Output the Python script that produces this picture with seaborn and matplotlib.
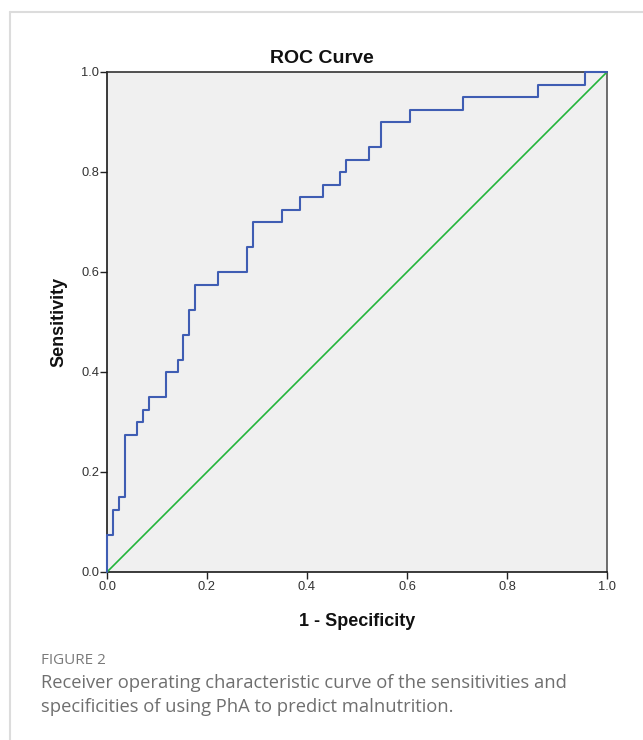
import matplotlib
matplotlib.use("Agg")
import matplotlib.pyplot as plt
import seaborn as sns
import pandas as pd
from matplotlib.lines import Line2D

# ---- data ----
fpr = [0.0, 0.0, 0.012, 0.024, 0.035, 0.059, 0.071, 0.083, 0.117, 0.141, 0.152,
       0.163, 0.175, 0.221, 0.280, 0.291, 0.349, 0.385, 0.431, 0.466, 0.477,
       0.524, 0.547, 0.605, 0.711, 0.861, 0.955, 1.0]
tpr = [0.0, 0.075, 0.125, 0.150, 0.275, 0.300, 0.325, 0.350, 0.400, 0.425, 0.475,
       0.525, 0.575, 0.600, 0.650, 0.700, 0.725, 0.750, 0.775, 0.800, 0.825,
       0.850, 0.900, 0.925, 0.950, 0.975, 1.0, 1.0]
ref_x = [0.0, 1.0]
ref_y = [0.0, 1.0]
ticks = [0.0, 0.2, 0.4, 0.6, 0.8, 1.0]
tick_labels = ["0.0", "0.2", "0.4", "0.6", "0.8", "1.0"]
title = "ROC Curve"
xlabel = "1 - Specificity"
ylabel = "Sensitivity"
fig_label = "FIGURE 2"
caption = ["Receiver operating characteristic curve of the sensitivities and",
           "specificities of using PhA to predict malnutrition."]

sns.set_theme(style="white")
plt.rcParams['font.family'] = ['Liberation Sans', 'DejaVu Sans']

W, H = 643, 740
fig = plt.figure(figsize=(W / 100, H / 100), dpi=100)
fig.patch.set_facecolor("white")

# card border
fig.add_artist(Line2D([10 / W, 1.0], [1 - 12 / H, 1 - 12 / H], color="#dcdcdc", lw=1.5, transform=fig.transFigure))
fig.add_artist(Line2D([10 / W, 10 / W], [0.0, 1 - 12 / H], color="#dcdcdc", lw=1.5, transform=fig.transFigure))

ax = fig.add_axes([107 / W, 1 - 572 / H, 500 / W, 500 / H])
ax.set_facecolor("#f0f0f0")

roc = pd.DataFrame({"fpr": fpr, "tpr": tpr})
ref = pd.DataFrame({"x": ref_x, "y": ref_y})
sns.lineplot(data=ref, x="x", y="y", ax=ax, color="#22b53a", lw=1.2,
             estimator=None, sort=False, clip_on=False, zorder=3)
sns.lineplot(data=roc, x="fpr", y="tpr", ax=ax, color="#3f5db3", lw=1.5,
             estimator=None, sort=False, drawstyle="steps-post", clip_on=False, zorder=4)

ax.set_xlim(0, 1)
ax.set_ylim(0, 1)
ax.set_xticks(ticks)
ax.set_xticklabels(tick_labels)
ax.set_yticks(ticks)
ax.set_yticklabels(tick_labels)
ax.set_xlabel("")
ax.set_ylabel("")
ax.tick_params(axis="both", which="major", direction="out", length=5, width=1.0,
               color="#222222", labelsize=9.3, labelcolor="#333333",
               bottom=True, left=True)
ax.tick_params(axis="x", pad=1.5)
ax.tick_params(axis="y", pad=0.5)
for side in ["left", "bottom", "top", "right"]:
    ax.spines[side].set_visible(True)
    ax.spines[side].set_color("#1a1a1a")
    ax.spines[side].set_linewidth(1.2)
ax.spines["right"].set_color("#555555")
ax.spines["top"].set_color("#333333")

fig.text(0.5, 1 - 63 / H, title, ha="center", va="baseline", fontsize=14, fontweight="bold", color="#111111")
fig.text(357 / W, 1 - 626 / H, xlabel, ha="center", va="baseline", fontsize=13, fontweight="bold", color="#111111")
fig.text(59 / W, 1 - 322 / H, ylabel, ha="center", va="center", rotation=90, fontsize=13, fontweight="bold", color="#111111")

fig.text(41 / W, 1 - 660 / H, fig_label, ha="left", va="center", fontsize=11,
         family=["Open Sans", "DejaVu Sans"], color="#7a7a7a")
fig.text(41 / W, 1 - 683 / H, caption[0], ha="left", va="center", fontsize=13.2,
         family=["Open Sans", "DejaVu Sans"], color="#6f6f6f")
fig.text(41 / W, 1 - 707 / H, caption[1], ha="left", va="center", fontsize=13.2,
         family=["Open Sans", "DejaVu Sans"], color="#6f6f6f")

fig.savefig("out.png", dpi=100, facecolor="white")
